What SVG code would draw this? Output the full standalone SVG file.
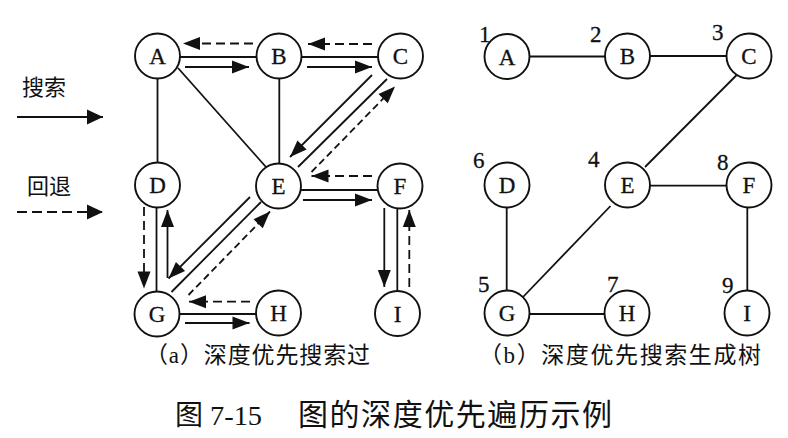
<svg xmlns="http://www.w3.org/2000/svg" width="788" height="438" viewBox="0 0 788 438">
<style>
.n circle{fill:#fff;stroke:#111;stroke-width:1.9}
.n text{font-family:"Liberation Serif","Times New Roman",serif;font-size:23px;text-anchor:middle;fill:#111;stroke:#111;stroke-width:0.3}
.num{font-family:"Liberation Serif","Times New Roman",serif;font-size:21px;fill:#111}
.e{stroke:#111;stroke-width:1.8;fill:none}
.s{stroke:#111;stroke-width:1.8;fill:none;marker-end:url(#ah)}
.d{stroke:#111;stroke-width:1.8;fill:none;stroke-dasharray:9 5;marker-end:url(#ah)}
.dd{stroke:#111;stroke-width:1.8;fill:none;stroke-dasharray:7 4;marker-end:url(#ah)}
.cj{font-family:"Liberation Serif","Noto Sans CJK SC",serif;fill:#111}
</style>
<defs>
<marker id="ah" markerUnits="userSpaceOnUse" markerWidth="17" markerHeight="13" refX="17" refY="6.5" orient="auto" overflow="visible">
<path d="M0,0 L17,6.5 L0,13 Z" fill="#111"/>
</marker>
<marker id="ahL" markerUnits="userSpaceOnUse" markerWidth="16" markerHeight="15" refX="16" refY="7.5" orient="auto" overflow="visible">
<path d="M0,0 L16,7.5 L0,15 Z" fill="#111"/>
</marker>
</defs>

<g id="legend">
<text class="cj" x="22" y="95" font-size="22">搜索</text>
<line x1="17" y1="117" x2="103" y2="117" stroke="#111" stroke-width="1.8" marker-end="url(#ahL)"/>
<text class="cj" x="27" y="194" font-size="22">回退</text>
<line x1="17" y1="212" x2="103" y2="212" stroke="#111" stroke-width="1.8" stroke-dasharray="10 5" marker-end="url(#ahL)"/>
</g>

<g id="connectors">
<line class="e" x1="180" y1="57" x2="256" y2="57"/>
<line class="e" x1="302" y1="57" x2="378" y2="57"/>
<line class="e" x1="157.5" y1="78" x2="157.5" y2="163"/>
<line class="e" x1="178" y1="68" x2="266" y2="167"/>
<line class="e" x1="279.3" y1="78" x2="279.3" y2="164"/>
<line class="e" x1="387" y1="79" x2="298" y2="167"/>
<line class="e" x1="301" y1="190" x2="378" y2="190"/>
<line class="e" x1="156.5" y1="207" x2="156.5" y2="292"/>
<line class="e" x1="261" y1="202" x2="171.5" y2="292"/>
<line class="e" x1="179" y1="314" x2="256" y2="314"/>
<line class="e" x1="397.3" y1="208" x2="397.3" y2="291"/>
<line class="s" x1="185" y1="67" x2="249" y2="67"/>
<line class="s" x1="307" y1="67" x2="372" y2="67"/>
<line class="s" x1="372" y1="75" x2="290" y2="157"/>
<line class="s" x1="250" y1="197" x2="168.5" y2="278.5"/>
<line class="s" x1="167.5" y1="278" x2="167.5" y2="210"/>
<line class="s" x1="185" y1="323" x2="249.5" y2="323"/>
<line class="s" x1="303" y1="200" x2="372" y2="200"/>
<line class="s" x1="384.3" y1="208" x2="384.3" y2="287"/>
<line class="d" x1="144" y1="207" x2="144" y2="288.5"/>
<line class="d" x1="250" y1="301.7" x2="189" y2="301.7"/>
<line class="dd" x1="188.5" y1="295" x2="270" y2="211.5"/>
<line class="d" x1="409.3" y1="287" x2="409.3" y2="210"/>
<line class="d" x1="372" y1="176" x2="311.5" y2="176"/>
<line class="dd" x1="311.5" y1="172" x2="395" y2="86.5"/>
<line class="d" x1="372" y1="44" x2="308" y2="44"/>
<line class="d" x1="253" y1="43.5" x2="183" y2="43.5"/>
<line class="e" x1="529.5" y1="56.5" x2="605" y2="56.5"/>
<line class="e" x1="650" y1="56" x2="726.5" y2="56"/>
<line class="e" x1="736.7" y1="75" x2="645" y2="167"/>
<line class="e" x1="506.7" y1="207.5" x2="506.7" y2="290.5"/>
<line class="e" x1="610.5" y1="206" x2="523" y2="297"/>
<line class="e" x1="650" y1="185.7" x2="726.5" y2="185.7"/>
<line class="e" x1="747.3" y1="207.5" x2="747.3" y2="290.5"/>
<line class="e" x1="529.5" y1="314" x2="604.5" y2="314"/>
</g>

<g id="a-A" class="n"><circle cx="157.5" cy="56" r="22.5"/><text x="157.5" y="64">A</text></g>
<g id="a-B" class="n"><circle cx="279" cy="56" r="22.5"/><text x="279" y="64">B</text></g>
<g id="a-C" class="n"><circle cx="400.5" cy="56" r="22.5"/><text x="400.5" y="64">C</text></g>
<g id="a-D" class="n"><circle cx="157.5" cy="185" r="22.5"/><text x="157.5" y="193">D</text></g>
<g id="a-E" class="n"><circle cx="278.5" cy="186" r="22.5"/><text x="278.5" y="194">E</text></g>
<g id="a-F" class="n"><circle cx="400" cy="186" r="22.5"/><text x="400" y="194">F</text></g>
<g id="a-G" class="n"><circle cx="157" cy="314" r="22.5"/><text x="157" y="322">G</text></g>
<g id="a-H" class="n"><circle cx="278.5" cy="313" r="22.5"/><text x="278.5" y="321">H</text></g>
<g id="a-I" class="n"><circle cx="397.5" cy="313.5" r="22.5"/><text x="397.5" y="321.5">I</text></g>

<g id="b-A" class="n"><circle cx="507" cy="56.5" r="22.5"/><text x="507" y="64.5">A</text><text class="num" x="479" y="42" style="text-anchor:start">1</text></g>
<g id="b-B" class="n"><circle cx="627.5" cy="56" r="22.5"/><text x="627.5" y="64">B</text><text class="num" x="590" y="42" style="text-anchor:start">2</text></g>
<g id="b-C" class="n"><circle cx="749" cy="56" r="22.5"/><text x="749" y="64">C</text><text class="num" x="712" y="40" style="text-anchor:start">3</text></g>
<g id="b-D" class="n"><circle cx="507" cy="185" r="22.5"/><text x="507" y="193">D</text><text class="num" x="473" y="168" style="text-anchor:start">6</text></g>
<g id="b-E" class="n"><circle cx="627.5" cy="185" r="22.5"/><text x="627.5" y="193">E</text><text class="num" x="588" y="167" style="text-anchor:start">4</text></g>
<g id="b-F" class="n"><circle cx="749" cy="185" r="22.5"/><text x="749" y="193">F</text><text class="num" x="717" y="170" style="text-anchor:start">8</text></g>
<g id="b-G" class="n"><circle cx="507" cy="313" r="22.5"/><text x="507" y="321">G</text><text class="num" x="478" y="292" style="text-anchor:start">5</text></g>
<g id="b-H" class="n"><circle cx="627" cy="313" r="22.5"/><text x="627" y="321">H</text><text class="num" x="607" y="292" style="text-anchor:start">7</text></g>
<g id="b-I" class="n"><circle cx="747" cy="313" r="22.5"/><text x="747" y="321">I</text><text class="num" x="722" y="293" style="text-anchor:start">9</text></g>

<g id="captions">
<text class="cj" x="145" y="363" font-size="23" textLength="225" lengthAdjust="spacing">（a）深度优先搜索过</text>
<text class="cj" x="479" y="363" font-size="23" textLength="282" lengthAdjust="spacing">（b）深度优先搜索生成树</text>
<text class="cj" x="175" y="425" font-size="28">图</text>
<text class="cj" x="210" y="425" font-size="27" textLength="52" lengthAdjust="spacingAndGlyphs">7-15</text>
<text class="cj" x="298" y="425" font-size="30" textLength="314" lengthAdjust="spacing">图的深度优先遍历示例</text>
</g>
</svg>
